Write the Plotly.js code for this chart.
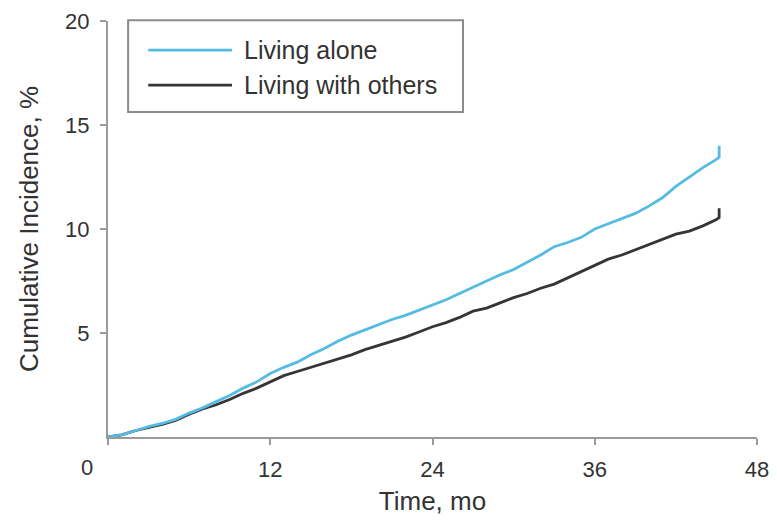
<!DOCTYPE html>
<html>
<head>
<meta charset="utf-8">
<script src="https://cdn.plot.ly/plotly-3.0.1.min.js"></script>
<style>
  html, body { margin: 0; padding: 0; background: #ffffff; }
  #chart { width: 777px; height: 524px; }
</style>
</head>
<body>
<div id="chart"></div>
<script>
// ---- data ----
const seriesNames = ["Living alone", "Living with others"];
const seriesColors = ["#55bbe2", "#353535"];

const timeAlone = [0, 1, 2, 3, 4, 5, 6, 7, 8, 9, 10, 11, 12, 13, 14, 15, 16, 17, 18, 19, 20, 21, 22, 23, 24, 25, 26, 27, 28, 29, 30, 31, 32, 33, 34, 35, 36, 37, 38, 39, 40, 41, 42, 43, 44, 45, 45.2, 45.2];
const incAlone = [0, 0.1, 0.3, 0.5, 0.65, 0.85, 1.15, 1.4, 1.7, 2.0, 2.35, 2.65, 3.05, 3.35, 3.6, 3.95, 4.25, 4.6, 4.9, 5.15, 5.4, 5.65, 5.85, 6.1, 6.35, 6.6, 6.9, 7.2, 7.5, 7.8, 8.05, 8.4, 8.75, 9.15, 9.35, 9.6, 10.0, 10.25, 10.5, 10.75, 11.1, 11.5, 12.05, 12.5, 12.95, 13.35, 13.45, 14.0];

const timeOthers = [0, 1, 2, 3, 4, 5, 6, 7, 8, 9, 10, 11, 12, 13, 14, 15, 16, 17, 18, 19, 20, 21, 22, 23, 24, 25, 26, 27, 28, 29, 30, 31, 32, 33, 34, 35, 36, 37, 38, 39, 40, 41, 42, 43, 44, 45, 45.2, 45.2];
const incOthers = [0, 0.1, 0.3, 0.45, 0.6, 0.8, 1.1, 1.35, 1.55, 1.8, 2.1, 2.35, 2.65, 2.95, 3.15, 3.35, 3.55, 3.75, 3.95, 4.2, 4.4, 4.6, 4.8, 5.05, 5.3, 5.5, 5.75, 6.05, 6.2, 6.45, 6.7, 6.9, 7.15, 7.35, 7.65, 7.95, 8.25, 8.55, 8.75, 9.0, 9.25, 9.5, 9.75, 9.9, 10.15, 10.45, 10.55, 11.0];

const xTickVals = [0, 12, 24, 36, 48];
const xTickText = ["", "12", "24", "36", "48"];
const yTickVals = [5, 10, 15, 20];
const yTickText = ["5", "10", "15", "20"];
const xTitle = "Time, mo";
const yTitle = "Cumulative Incidence, %";
const originLabel = "0";

// ---- chart ----
const FONT = "Liberation Sans, Arial, Helvetica, sans-serif";
const TXT = "#333333";
const AX = "#9a9a9a";

const traces = [
  { x: timeOthers, y: incOthers, name: seriesNames[1], mode: "lines",
    line: { color: seriesColors[1], width: 2.8 }, showlegend: false },
  { x: timeAlone, y: incAlone, name: seriesNames[0], mode: "lines",
    line: { color: seriesColors[0], width: 2.8 }, showlegend: false }
];

// custom legend (box, sample lines, labels) in paper coordinates
const legX0 = 0.031, legX1 = 0.547, legY0 = 0.781, legY1 = 1.002;
const rowY = [0.930, 0.846];
const shapes = [
  { type: "rect", xref: "paper", yref: "paper", x0: legX0, x1: legX1, y0: legY0, y1: legY1,
    line: { color: "#8c8c8c", width: 2 }, fillcolor: "rgba(0,0,0,0)" }
];
const annotations = [
  { xref: "x", yref: "paper", x: 0, y: 0, text: originLabel, showarrow: false,
    xanchor: "center", yanchor: "top", xshift: -21, yshift: -16,
    font: { family: FONT, size: 22, color: TXT } }
];
seriesNames.forEach((nm, i) => {
  shapes.push({ type: "line", xref: "paper", yref: "paper",
    x0: 0.062, x1: 0.191, y0: rowY[i], y1: rowY[i],
    line: { color: seriesColors[i], width: 2.8 } });
  annotations.push({ xref: "paper", yref: "paper", x: 0.206, y: rowY[i], text: nm,
    showarrow: false, xanchor: "left", yanchor: "middle",
    font: { family: FONT, size: 25, color: TXT } });
});

const layout = {
  width: 777, height: 524,
  margin: { l: 108, r: 20, t: 21, b: 87 },
  paper_bgcolor: "#ffffff", plot_bgcolor: "#ffffff",
  font: { family: FONT, color: TXT },
  showlegend: false,
  xaxis: {
    range: [0, 48], tickvals: xTickVals, ticktext: xTickText,
    showline: true, linecolor: AX, linewidth: 2,
    ticks: "outside", ticklen: 6, tickwidth: 2, tickcolor: AX,
    showgrid: false, zeroline: false, ticklabelstandoff: 6,
    tickfont: { family: FONT, size: 22, color: TXT },
    title: { text: xTitle, font: { family: FONT, size: 26, color: TXT }, standoff: 10 },
    fixedrange: true
  },
  yaxis: {
    range: [0, 20], tickvals: yTickVals, ticktext: yTickText,
    showline: true, linecolor: AX, linewidth: 2,
    ticks: "outside", ticklen: 6, tickwidth: 2, tickcolor: AX,
    showgrid: false, zeroline: false, ticklabelstandoff: 6,
    tickfont: { family: FONT, size: 22, color: TXT },
    title: { text: yTitle, font: { family: FONT, size: 26, color: TXT }, standoff: 19 },
    fixedrange: true
  },
  shapes: shapes,
  annotations: annotations
};

Plotly.newPlot("chart", traces, layout, { displayModeBar: false, staticPlot: true });
</script>
</body>
</html>
